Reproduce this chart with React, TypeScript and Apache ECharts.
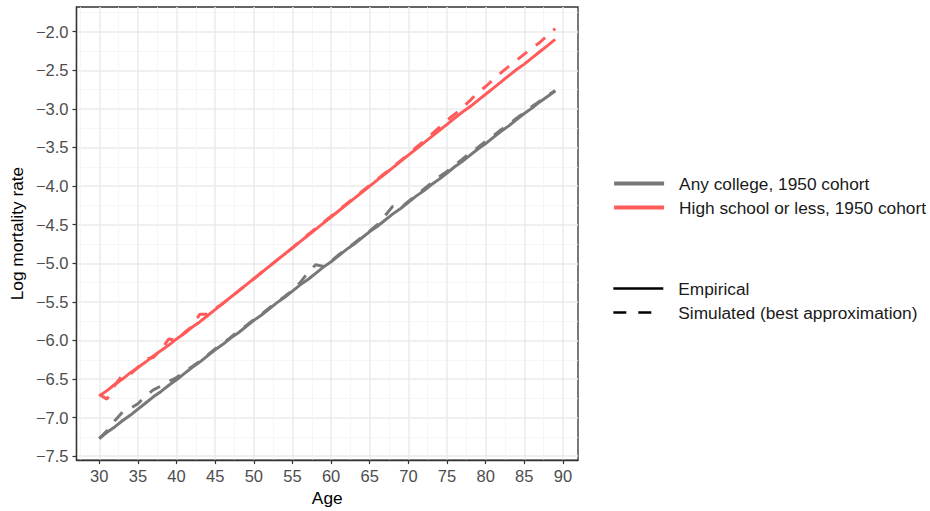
import React, { useEffect, useRef } from "react";
import * as echarts from "echarts";

const ages = [
  30, 31, 32, 33, 34, 35, 36, 37, 38, 39,
  40, 41, 42, 43, 44, 45, 46, 47, 48, 49,
  50, 51, 52, 53, 54, 55, 56, 57, 58, 59,
  60, 61, 62, 63, 64, 65, 66, 67, 68, 69,
  70, 71, 72, 73, 74, 75, 76, 77, 78, 79,
  80, 81, 82, 83, 84, 85, 86, 87, 88, 89,
];

const collegeEmpirical = [
  -7.27, -7.19, -7.12, -7.04, -6.97, -6.89, -6.81, -6.73, -6.66, -6.58,
  -6.51, -6.43, -6.35, -6.28, -6.2, -6.12, -6.05, -5.97, -5.9, -5.82,
  -5.74, -5.67, -5.59, -5.51, -5.44, -5.36, -5.28, -5.21, -5.13, -5.05,
  -4.98, -4.9, -4.82, -4.75, -4.67, -4.59, -4.52, -4.44, -4.36, -4.29,
  -4.21, -4.13, -4.06, -3.98, -3.91, -3.83, -3.75, -3.68, -3.6, -3.52,
  -3.45, -3.37, -3.29, -3.22, -3.14, -3.06, -2.99, -2.91, -2.84, -2.77,
];

const collegeSimulated = [
  -7.27, -7.17, -7.04, -6.93, -6.88, -6.82, -6.72, -6.64, -6.59, -6.53,
  -6.48, -6.41, -6.34, -6.27, -6.19, -6.11, -6.04, -5.96, -5.88, -5.81,
  -5.73, -5.66, -5.58, -5.5, -5.43, -5.35, -5.25, -5.12, -5.02, -5.04,
  -4.97, -4.89, -4.81, -4.74, -4.66, -4.58, -4.5, -4.38, -4.26, -4.28,
  -4.2, -4.12, -4.04, -3.96, -3.88, -3.81, -3.73, -3.65, -3.57, -3.5,
  -3.42, -3.35, -3.27, -3.2, -3.12, -3.05, -2.97, -2.9, -2.83, -2.76,
];

const hsEmpirical = [
  -6.72, -6.65, -6.57, -6.5, -6.42, -6.35, -6.28, -6.2, -6.13, -6.06,
  -5.98, -5.91, -5.83, -5.76, -5.68, -5.6, -5.52, -5.44, -5.36, -5.28,
  -5.2, -5.12, -5.04, -4.96, -4.88, -4.8, -4.72, -4.64, -4.56, -4.48,
  -4.4, -4.32, -4.24, -4.16, -4.08, -4.0, -3.92, -3.84, -3.76, -3.68,
  -3.6, -3.52, -3.44, -3.36, -3.28, -3.2, -3.12, -3.04, -2.97, -2.89,
  -2.81, -2.73, -2.65, -2.57, -2.49, -2.42, -2.34, -2.26, -2.18, -2.1,
];

const hsSimulated = [
  -6.7, -6.76, -6.58, -6.45, -6.44, -6.35, -6.24, -6.22, -6.12, -5.98,
  -6.0, -5.9, -5.82, -5.66, -5.66, -5.59, -5.52, -5.44, -5.36, -5.28,
  -5.2, -5.12, -5.04, -4.96, -4.88, -4.8, -4.71, -4.63, -4.55, -4.47,
  -4.39, -4.31, -4.23, -4.15, -4.07, -3.99, -3.91, -3.83, -3.75, -3.67,
  -3.59, -3.5, -3.42, -3.33, -3.24, -3.15, -3.07, -2.98, -2.89, -2.79,
  -2.71, -2.62, -2.53, -2.45, -2.37, -2.29, -2.21, -2.14, -2.05, -1.96,
];

const xTicks = [30, 35, 40, 45, 50, 55, 60, 65, 70, 75, 80, 85, 90];
const yTicks = [-7.5, -7.0, -6.5, -6.0, -5.5, -5.0, -4.5, -4.0, -3.5, -3.0, -2.5, -2.0];

const groupNames = ["Any college, 1950 cohort", "High school or less, 1950 cohort"];
const typeNames = ["Empirical", "Simulated (best approximation)"];

const GRAY = "#787878";
const RED = "#FF5B5B";
const DASH = [12, 11];
const FONT = "Liberation Sans, Arial, sans-serif";
const TICK_FONT = 16.5;
const TITLE_FONT = 17.3;
const LINE_W = 3;

function pairs(xs: number[], ys: number[]) {
  return xs.map((x, i) => [x, ys[i]]);
}

export default function App() {
  const ref = useRef<HTMLDivElement>(null);

  useEffect(() => {
    if (!ref.current) return;
    const chart = echarts.init(ref.current, undefined, { renderer: "svg" });

    const legendCommon = {
      orient: "vertical",
      left: 612,
      padding: 0,
      itemWidth: 50,
      itemHeight: 18,
      itemGap: 7,
      selectedMode: false,
      itemStyle: { color: "transparent", borderWidth: 0, opacity: 0 },
      textStyle: {
        fontSize: TITLE_FONT,
        color: "#1A1A1A",
        fontFamily: FONT,
        padding: [0, 0, 0, 10],
      },
    };

    const option: any = {
      animation: false,
      backgroundColor: "#ffffff",
      textStyle: { fontFamily: FONT },
      grid: {
        left: 72,
        top: 7,
        width: 506,
        height: 461,
        show: true,
        borderColor: "#333333",
        borderWidth: 1.3,
        backgroundColor: "transparent",
        containLabel: false,
      },
      xAxis: {
        type: "value",
        min: 27.05,
        max: 91.95,
        minInterval: 5,
        maxInterval: 5,
        name: "Age",
        nameLocation: "middle",
        nameGap: 28,
        nameTextStyle: { fontSize: TITLE_FONT, color: "#000000", fontFamily: FONT },
        axisLine: { show: true, lineStyle: { color: "#333333", width: 1.3 } },
        axisTick: { show: true, length: 4, lineStyle: { color: "#333333", width: 1.2 }, customValues: xTicks },
        axisLabel: {
          customValues: xTicks,
          color: "#4D4D4D",
          fontSize: TICK_FONT,
          margin: 7,
          fontFamily: FONT,
          formatter: (v: number) => String(v),
        },
        splitLine: { show: true, lineStyle: { color: "#EBEBEB", width: 1.5 } },
        minorTick: { show: false, splitNumber: 2 },
        minorSplitLine: { show: true, lineStyle: { color: "#F4F4F4", width: 0.8 } },
      },
      yAxis: {
        type: "value",
        min: -7.55,
        max: -1.68,
        minInterval: 0.5,
        maxInterval: 0.5,
        name: "Log mortality rate",
        nameLocation: "middle",
        nameGap: 46,
        nameTextStyle: { fontSize: TITLE_FONT, color: "#000000", fontFamily: FONT },
        axisLine: { show: true, lineStyle: { color: "#333333", width: 1.3 } },
        axisTick: { show: true, length: 4, lineStyle: { color: "#333333", width: 1.2 }, customValues: yTicks },
        axisLabel: {
          customValues: yTicks,
          color: "#4D4D4D",
          fontSize: TICK_FONT,
          margin: 8,
          fontFamily: FONT,
          formatter: (v: number) => (v < 0 ? "\u2212" : "") + Math.abs(v).toFixed(1),
        },
        splitLine: { show: true, lineStyle: { color: "#EBEBEB", width: 1.5 } },
        minorTick: { show: false, splitNumber: 2 },
        minorSplitLine: { show: true, lineStyle: { color: "#F4F4F4", width: 0.8 } },
      },
      legend: [
        {
          ...legendCommon,
          top: 175,
          data: groupNames,
          lineStyle: { width: 4.2 },
        },
        {
          ...legendCommon,
          top: 280,
          data: typeNames,
          lineStyle: { width: 2.6 },
        },
      ],
      series: [
        {
          type: "line",
          name: groupNames[0],
          data: pairs(ages, collegeEmpirical),
          symbol: "none",
          lineStyle: { color: GRAY, width: LINE_W },
          itemStyle: { color: GRAY },
          z: 3,
        },
        {
          type: "line",
          name: groupNames[1],
          data: pairs(ages, hsEmpirical),
          symbol: "none",
          lineStyle: { color: RED, width: LINE_W },
          itemStyle: { color: RED },
          z: 3,
        },
        {
          type: "line",
          name: groupNames[0],
          data: pairs(ages, collegeSimulated),
          symbol: "none",
          lineStyle: { color: GRAY, width: LINE_W, type: DASH, cap: "butt" },
          itemStyle: { color: GRAY },
          z: 4,
        },
        {
          type: "line",
          name: groupNames[1],
          data: pairs(ages, hsSimulated),
          symbol: "none",
          lineStyle: { color: RED, width: LINE_W, type: DASH, cap: "butt" },
          itemStyle: { color: RED },
          z: 4,
        },
        {
          type: "line",
          name: typeNames[0],
          data: [],
          symbol: "none",
          lineStyle: { color: "#000000", width: 2.6 },
          itemStyle: { color: "#000000" },
        },
        {
          type: "line",
          name: typeNames[1],
          data: [],
          symbol: "none",
          lineStyle: { color: "#000000", width: 2.6, type: [13, 12] },
          itemStyle: { color: "#000000" },
        },
      ],
    };

    chart.setOption(option);
    return () => chart.dispose();
  }, []);

  return (
    <div
      ref={ref}
      style={{ position: "fixed", left: 0, top: 0, width: 930, height: 511, background: "#fff" }}
    />
  );
}
